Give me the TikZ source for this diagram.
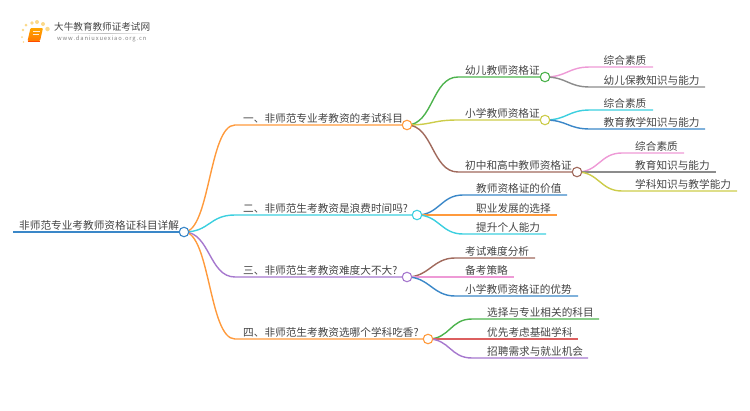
\documentclass[tikz,border=0pt]{standalone}
\usepackage{fontspec}
\setmainfont{Noto Sans CJK SC}
\usepackage{xcolor}
\usetikzlibrary{positioning}
\definecolor{cOrange}{HTML}{FF9A3C}
\definecolor{cCyan}{HTML}{3CCFDF}
\definecolor{cPurple}{HTML}{A678CE}
\definecolor{cBlue}{HTML}{3A87C8}
\definecolor{cGreen}{HTML}{4DB34D}
\definecolor{cOlive}{HTML}{CCCC4A}
\definecolor{cBrown}{HTML}{A0695C}
\definecolor{cPink}{HTML}{EE9AD6}
\definecolor{cGrey}{HTML}{8C8C8C}
\definecolor{cRed}{HTML}{DC5F5F}
\definecolor{cText}{HTML}{444444}
\definecolor{cSun}{HTML}{FBD98A}
\begin{document}
\begin{tikzpicture}[
  x=1pt, y=-1pt,
  txt/.style={anchor=west, inner sep=0pt, text=cText, font=\fontsize{10.65pt}{12pt}\selectfont},
  hub/.style={circle, draw=#1, fill=white, line width=1.1pt, minimum size=9.5pt, inner sep=0pt},
  lnk/.style={draw=#1, line width=1.4pt},
  dot/.style={circle, fill=cSun, inner sep=0pt}
]
\useasboundingbox (0,0) rectangle (750,410);
% logo
\foreach \dx/\dy/\ds in {32/23/3.8, 37/22/4, 43/24/4, 47.5/29/4.5, 26/25/3, 23/30/2.6, 22/37/2, 23.5/42/1.6}
  \node[dot, minimum size=\ds pt] at (\dx,\dy) {};
\shade[top color=orange!70!yellow, bottom color=orange!95!red, rounded corners=1pt] (30.5,28) -- (43,28) -- (40,41) -- (27.5,41) -- cycle;
\draw[white!85!orange, line width=.5pt] (33,31.5) -- (39.5,31.5) (32.5,34) -- (39,34);
\draw[orange!60!red, line width=.8pt] (27.5,41.8) -- (40,41.8);
\node[anchor=west, inner sep=0pt, text=cText, font=\fontsize{9.6pt}{11pt}\selectfont] (logoname) at (54,26.5) {大牛教育教师证考试网};
\shade[left color=white, right color=white, middle color=black!25] (60,33) rectangle (150,33.8);
\node[anchor=west, inner sep=0pt, text=gray, font=\fontsize{5.8pt}{7pt}\selectfont\addfontfeature{LetterSpace=15}] (logourl) at (57,39) {www.daniuxuexiao.org.cn};

% hubs
\coordinate (root) at (184,232);
\coordinate (a) at (407,125);
\coordinate (b) at (417,215);
\coordinate (c) at (407,277);
\coordinate (d) at (428,339);
\coordinate (a1) at (545,77);
\coordinate (a2) at (545,120);
\coordinate (a3) at (577,172);

% line starts and ends
\coordinate (r0) at (13,232);
\coordinate (as) at (235,125);
\coordinate (bs) at (235,215);
\coordinate (cs) at (235,277);
\coordinate (ds) at (235,339);
\coordinate (a1s) at (458,77);
\coordinate (a2s) at (458,120);
\coordinate (a3s) at (458,172);
\coordinate (a11) at (590,67);
\coordinate (a11e) at (653,67);
\coordinate (a12) at (590,87);
\coordinate (a12e) at (705,87);
\coordinate (a21) at (590,110);
\coordinate (a21e) at (653,110);
\coordinate (a22) at (590,129);
\coordinate (a22e) at (705,129);
\coordinate (a31) at (622,153);
\coordinate (a31e) at (684,153);
\coordinate (a32) at (622,172);
\coordinate (a32e) at (716,172);
\coordinate (a33) at (622,191);
\coordinate (a33e) at (737,191);
\coordinate (b1) at (463,195);
\coordinate (b1e) at (567,195);
\coordinate (b2) at (463,215);
\coordinate (b2e) at (557,215);
\coordinate (b3) at (463,234);
\coordinate (b3e) at (546,234);
\coordinate (c1) at (455,258);
\coordinate (c1e) at (535,258);
\coordinate (c2) at (455,277);
\coordinate (c2e) at (514,277);
\coordinate (c3) at (455,296);
\coordinate (c3e) at (578,296);
\coordinate (d1) at (472,319);
\coordinate (d1e) at (599,319);
\coordinate (d2) at (472,339);
\coordinate (d2e) at (578,339);
\coordinate (d3) at (472,358);
\coordinate (d3e) at (588,358);

% connectors
\draw[lnk=cBlue, line width=1.7pt] (r0) -- (root);
\draw[lnk=cOrange] (root) .. controls +(26,0) and +(-26,0) .. (as) -- (a);
\draw[lnk=cCyan] (root) .. controls +(26,0) and +(-26,0) .. (bs) -- (b);
\draw[lnk=cPurple] (root) .. controls +(26,0) and +(-26,0) .. (cs) -- (c);
\draw[lnk=cOrange] (root) .. controls +(26,0) and +(-26,0) .. (ds) -- (d);
\draw[lnk=cGreen] (a) .. controls +(26,0) and +(-26,0) .. (a1s) -- (a1);
\draw[lnk=cOlive] (a) .. controls +(26,0) and +(-26,0) .. (a2s) -- (a2);
\draw[lnk=cBrown] (a) .. controls +(26,0) and +(-26,0) .. (a3s) -- (a3);
\draw[lnk=cPink] (a1) .. controls +(22,0) and +(-22,0) .. (a11) -- (a11e);
\draw[lnk=cGrey] (a1) .. controls +(22,0) and +(-22,0) .. (a12) -- (a12e);
\draw[lnk=cCyan] (a2) .. controls +(22,0) and +(-22,0) .. (a21) -- (a21e);
\draw[lnk=cBlue] (a2) .. controls +(22,0) and +(-22,0) .. (a22) -- (a22e);
\draw[lnk=cPink] (a3) .. controls +(22,0) and +(-22,0) .. (a31) -- (a31e);
\draw[lnk=cGrey] (a3) -- (a32) -- (a32e);
\draw[lnk=cOlive] (a3) .. controls +(22,0) and +(-22,0) .. (a33) -- (a33e);
\draw[lnk=cBlue] (b) .. controls +(22,0) and +(-22,0) .. (b1) -- (b1e);
\draw[lnk=cOrange] (b) -- (b2) -- (b2e);
\draw[lnk=cCyan] (b) .. controls +(22,0) and +(-22,0) .. (b3) -- (b3e);
\draw[lnk=cBrown] (c) .. controls +(22,0) and +(-22,0) .. (c1) -- (c1e);
\draw[lnk=cPink] (c) -- (c2) -- (c2e);
\draw[lnk=cBlue] (c) .. controls +(22,0) and +(-22,0) .. (c3) -- (c3e);
\draw[lnk=cGreen] (d) .. controls +(22,0) and +(-22,0) .. (d1) -- (d1e);
\draw[lnk=cRed] (d) -- (d2) -- (d2e);
\draw[lnk=cPurple] (d) .. controls +(22,0) and +(-22,0) .. (d3) -- (d3e);
\node[hub=cBlue] (rootc) at (root) {};
\node[hub=cOrange] (ac) at (a) {};
\node[hub=cCyan] (bc) at (b) {};
\node[hub=cPurple] (cc) at (c) {};
\node[hub=cOrange] (dc) at (d) {};
\node[hub=cGreen] (a1c) at (a1) {};
\node[hub=cOlive] (a2c) at (a2) {};
\node[hub=cBrown] (a3c) at (a3) {};

% labels
\node[txt] (rootlab) at (19,225) {非师范专业考教师资格证科目详解};
\node[txt] (alab) at (243,118) {一、非师范专业考教资的考试科目};
\node[txt] (blab) at (243,208) {二、非师范生考教资是浪费时间吗?};
\node[txt] (clab) at (243,270) {三、非师范生考教资难度大不大?};
\node[txt] (dlab) at (243,332) {四、非师范生考教资选哪个学科吃香?};
\node[txt] (a1lab) at (465,70) {幼儿教师资格证};
\node[txt] (a2lab) at (465,113) {小学教师资格证};
\node[txt] (a3lab) at (465,165) {初中和高中教师资格证};
\node[txt] (a11lab) at (603.5,60) {综合素质};
\node[txt] (a12lab) at (603.5,80) {幼儿保教知识与能力};
\node[txt] (a21lab) at (603.5,103) {综合素质};
\node[txt] (a22lab) at (603.5,122) {教育教学知识与能力};
\node[txt] (a31lab) at (635,146) {综合素质};
\node[txt] (a32lab) at (635,165) {教育知识与能力};
\node[txt] (a33lab) at (635,184) {学科知识与教学能力};
\node[txt] (b1lab) at (476,188) {教师资格证的价值};
\node[txt] (b2lab) at (476,208) {职业发展的选择};
\node[txt] (b3lab) at (476,227) {提升个人能力};
\node[txt] (c1lab) at (465,251) {考试难度分析};
\node[txt] (c2lab) at (465,270) {备考策略};
\node[txt] (c3lab) at (465,289) {小学教师资格证的优势};
\node[txt] (d1lab) at (487,312) {选择与专业相关的科目};
\node[txt] (d2lab) at (487,332) {优先考虑基础学科};
\node[txt] (d3lab) at (487,351) {招聘需求与就业机会};
\end{tikzpicture}
\end{document}
